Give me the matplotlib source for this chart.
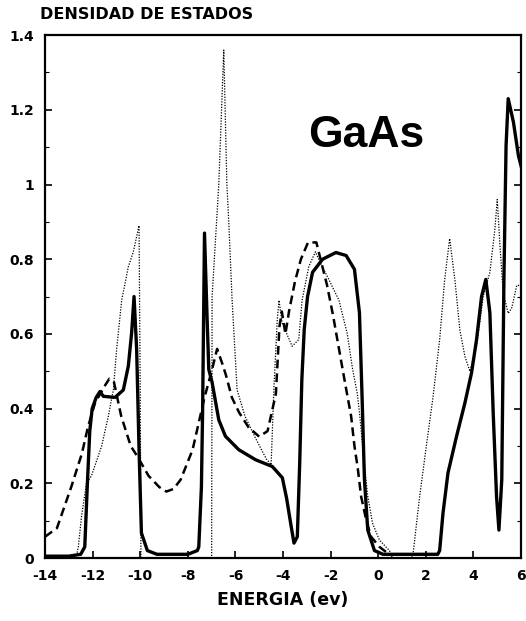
import numpy as np
import matplotlib
matplotlib.use("Agg")
import matplotlib.pyplot as plt

# Solid curve (thick)
solid_x = [-14, -13, -12.5, -12.33, -12.22, -12.12, -12.02, -11.85, -11.69, -11.55, -11.06, -10.71,
           -10.5, -10.36, -10.26, -10.15, -10.05, -9.95, -9.7, -9.3, -8.0, -7.6, -7.54, -7.43, -7.38,
           -7.3, -7.19, -7.12, -6.98, -6.7, -6.42, -5.86, -5.15, -4.45, -4.03, -3.85, -3.68, -3.54,
           -3.4, -3.3, -3.21, -3.11, -2.97, -2.76, -2.34, -1.78, -1.35, -1.0, -0.79, -0.68, -0.58,
           -0.44, -0.16, 0.2, 2.5, 2.58, 2.72, 2.93, 3.29, 3.64, 3.92, 4.13, 4.34, 4.52, 4.69, 4.83,
           4.97, 5.07, 5.19, 5.28, 5.37, 5.46, 5.68, 5.89, 6.0]
solid_y = [0.005, 0.005, 0.01, 0.03, 0.2, 0.34, 0.40, 0.43, 0.446, 0.433, 0.43, 0.45,
           0.514, 0.604, 0.70, 0.558, 0.29, 0.067, 0.02, 0.01, 0.01, 0.02, 0.03, 0.19, 0.39,
           0.87, 0.64, 0.505, 0.47, 0.37, 0.326, 0.29, 0.263, 0.245, 0.215, 0.16, 0.093, 0.04,
           0.057, 0.254, 0.478, 0.612, 0.70, 0.765, 0.80, 0.818, 0.81, 0.773, 0.657, 0.433, 0.21,
           0.075, 0.02, 0.01, 0.01, 0.02, 0.12, 0.228, 0.326, 0.415, 0.496, 0.585, 0.70, 0.746, 0.657, 0.388,
           0.165, 0.075, 0.21, 0.746, 1.104, 1.23, 1.167, 1.077, 1.05]

# Dashed curve
dashed_x = [-14.0, -13.5, -12.9, -12.45, -12.2, -11.9, -11.5, -11.3, -11.1, -10.8, -10.4, -10.1,
            -9.65, -9.2, -8.9, -8.6, -8.3, -8.05, -7.8, -7.55, -7.3, -7.0, -6.77, -6.55, -6.4,
            -6.15, -5.85, -5.45, -5.0, -4.65, -4.3, -4.15, -4.05, -3.9, -3.75, -3.5, -3.25, -2.95,
            -2.6, -2.15, -1.9, -1.65, -1.37, -1.14, -1.0, -0.86, -0.72, -0.5, -0.3, 0.05, 0.35, 0.5]
dashed_y = [0.057, 0.08, 0.19, 0.28, 0.35, 0.415, 0.46, 0.48, 0.47, 0.38, 0.30, 0.27,
            0.22, 0.19, 0.178, 0.185, 0.21, 0.25, 0.29, 0.36, 0.43, 0.50, 0.56, 0.52, 0.49,
            0.43, 0.39, 0.35, 0.325, 0.34, 0.44, 0.62, 0.66, 0.60, 0.66, 0.74, 0.80, 0.845,
            0.845, 0.73, 0.65, 0.56, 0.46, 0.38, 0.30, 0.24, 0.165, 0.10, 0.057, 0.03, 0.015, 0.01]

# Dotted curve
dotted_x = [-12.7, -12.6, -12.47, -12.26, -12.05, -11.62, -11.34, -11.13, -10.99, -10.78, -10.5,
            -10.29, -10.05, -10.0, -9.97, -7.0, -6.98, -6.7, -6.49, -6.36, -6.28, -6.14, -5.93,
            -5.6, -5.15, -4.7, -4.5, -4.38, -4.24, -4.17, -4.04, -3.62, -3.34, -3.2, -2.92, -2.64,
            -2.43, -2.07, -1.65, -1.3, -1.09, -0.88, -0.79, -0.58, -0.44, -0.24, 0.05, 0.47, 0.6,
            1.4, 1.46, 1.74, 2.02, 2.3, 2.58, 2.79, 3.0, 3.22, 3.43, 3.64, 3.85, 4.13, 4.41, 4.69,
            4.9, 5.0, 5.11, 5.25, 5.46, 5.61, 5.82, 6.0]
dotted_y = [0.0, 0.03, 0.11, 0.20, 0.22, 0.30, 0.38, 0.45, 0.56, 0.69, 0.78,
            0.82, 0.89, 0.44, 0.0, 0.0, 0.70, 1.0, 1.36, 1.0, 0.90, 0.69, 0.45,
            0.38, 0.32, 0.265, 0.25, 0.46, 0.64, 0.69, 0.63, 0.567, 0.585, 0.69, 0.78, 0.82,
            0.79, 0.745, 0.69, 0.60, 0.51, 0.44, 0.39, 0.25, 0.165, 0.093, 0.048, 0.02, 0.0,
            0.0, 0.01, 0.165, 0.30, 0.43, 0.585, 0.745, 0.855, 0.745, 0.61, 0.54, 0.50, 0.567, 0.70, 0.765,
            0.88, 0.96, 0.84, 0.71, 0.655, 0.67, 0.73, 0.73]

x_ticks = [-14, -12, -10, -8, -6, -4, -2, 0, 2, 4, 6]
y_ticks = [0, 0.2, 0.4, 0.6, 0.8, 1.0, 1.2, 1.4]
y_tick_labels = ["0", "0.2", "0.4", "0.6", "0.8", "1", "1.2", "1.4"]

fig = plt.figure(figsize=(5.26, 6.21), dpi=100)
ax = fig.add_axes([0.0856, 0.1014, 0.905, 0.842])

ax.plot(dotted_x, dotted_y, color="black", lw=0.9, linestyle=(0, (1, 1.2)))
ax.plot(dashed_x, dashed_y, color="black", lw=1.8, dashes=(3.5, 2))
ax.plot(solid_x, solid_y, color="black", lw=2.4, solid_joinstyle="round")

ax.set_xlim(-14, 6)
ax.set_ylim(0, 1.4)
ax.set_xticks(x_ticks)
ax.set_xticklabels([str(v) for v in x_ticks])
ax.set_yticks(y_ticks)
ax.set_yticklabels(y_tick_labels)
ax.set_yticks(np.arange(0.1, 1.4, 0.2), minor=True)

for s in ax.spines.values():
    s.set_linewidth(1.6)

ax.tick_params(axis="both", which="major", direction="in", length=5, width=1.2,
               labelsize=10, pad=8)
ax.tick_params(axis="y", which="minor", direction="in", length=3, width=0.8, right=True)
ax.tick_params(axis="y", which="major", right=True)
for lab in ax.get_xticklabels() + ax.get_yticklabels():
    lab.set_fontweight("bold")

ax.set_xlabel("ENERGIA (ev)", fontsize=12.5, fontweight="bold", labelpad=6)

fig.text(0.076, 0.988, "DENSIDAD DE ESTADOS", fontsize=11.5, fontweight="heavy",
         ha="left", va="top")

ax.text(0.553, 0.809, "GaAs", transform=ax.transAxes, fontsize=32, fontweight="bold",
        family="Liberation Sans", ha="left", va="center")

fig.savefig("out.png", dpi=100)
